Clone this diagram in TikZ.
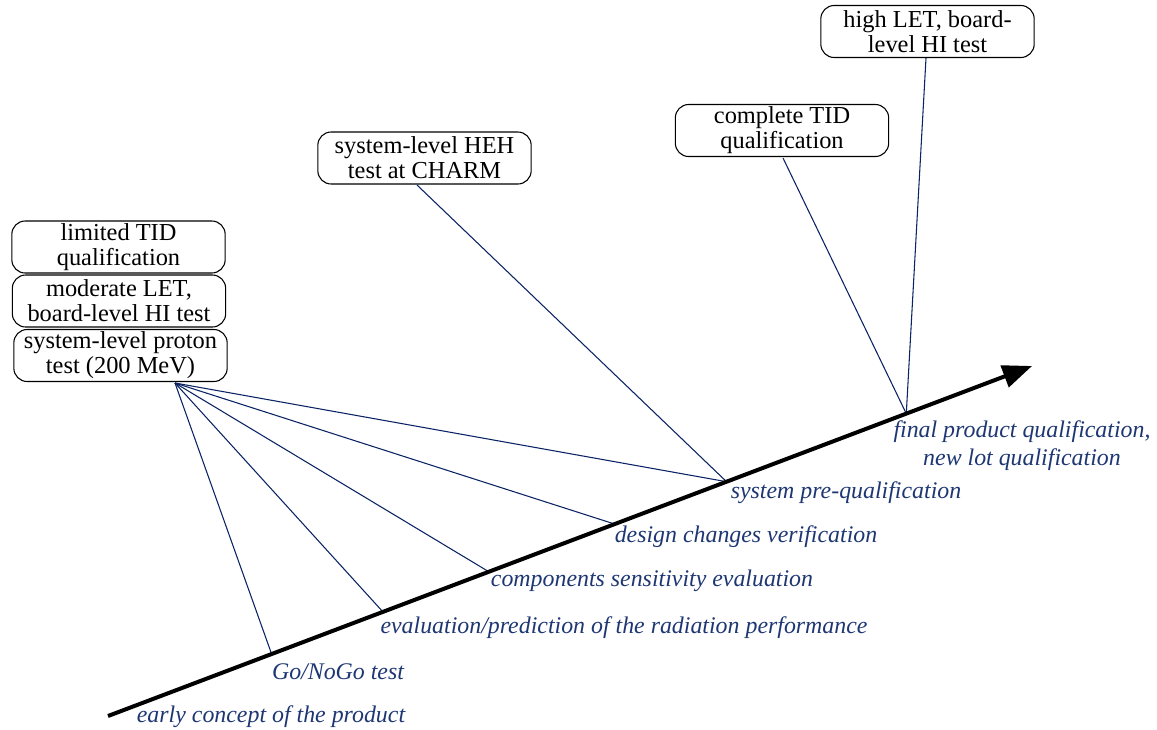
\documentclass[tikz,border=0pt]{standalone}
\usepackage{fontspec}
\setmainfont{Liberation Serif}
\usetikzlibrary{arrows.meta,calc}
\definecolor{navy}{RGB}{10,35,100}
\definecolor{labnavy}{RGB}{30,55,115}
\tikzset{
  testbox/.style={draw, rounded corners=10pt, line width=0.8pt, minimum width=160pt, minimum height=39pt, align=center, font=\fontsize{18.3}{18.8}\selectfont, inner sep=1pt},
  link/.style={draw=navy, line width=0.8pt},
  phase/.style={font=\fontsize{17.9}{21}\selectfont\itshape, text=labnavy, align=center, inner sep=0pt},
  axis/.style={line width=3pt, -{Triangle[length=22pt,width=17pt]}}
}
\begin{document}
\begin{tikzpicture}[x=0.75pt,y=-0.75pt]
\useasboundingbox (0,0) rectangle (1157,729);
% boxes
\node[testbox] (tid1) at (118.5,247) {limited TID\\qualification};
\node[testbox] (let1) at (119,301) {moderate LET,\\board-level HI test};
\node[testbox] (prot) at (120.5,355.5) {system-level proton\\test (200 MeV)};
\node[testbox] (heh) at (424.5,158) {system-level HEH\\test at CHARM};
\node[testbox] (tid2) at (782,130.5) {complete TID\\qualification};
\node[testbox] (let2) at (927.5,31.5) {high LET, board-\\level HI test};
% axis
\coordinate (A) at (108,716);
\coordinate (B) at (1032,366);
\coordinate (p1) at ($(A)!(272,655)!(B)$);
\coordinate (p2) at ($(A)!(383,612)!(B)$);
\coordinate (p3) at ($(A)!(489,572)!(B)$);
\coordinate (p4) at ($(A)!(614,522)!(B)$);
\coordinate (p5) at ($(A)!(726,480)!(B)$);
\coordinate (p6) at ($(A)!(905,410)!(B)$);
\coordinate (src) at (175,383);
\coordinate (hehs) at (417,185);
\coordinate (tids) at (783,158);
\coordinate (lets) at (926,58);
\draw[link] (src) -- (p1);
\draw[link] (src) -- (p2);
\draw[link] (src) -- (p3);
\draw[link] (src) -- (p4);
\draw[link] (src) -- (p5);
\draw[link] (hehs) -- (p5);
\draw[link] (tids) -- (p6);
\draw[link] (lets) -- (p6);
\draw[axis] (A) -- (B);
% labels
\node[phase] (l0) at (271,717) {early concept of the product};
\node[phase] (l1) at (338,672) {Go/NoGo test};
\node[phase] (l2) at (624,628) {evaluation/prediction of the radiation performance};
\node[phase] (l3) at (652,581) {components sensitivity evaluation};
\node[phase] (l4) at (746,537) {design changes verification};
\node[phase] (l5) at (846,493) {system pre-qualification};
\node[phase] (l6) at (1022,446) {final product qualification,\\new lot qualification};
\end{tikzpicture}
\end{document}
